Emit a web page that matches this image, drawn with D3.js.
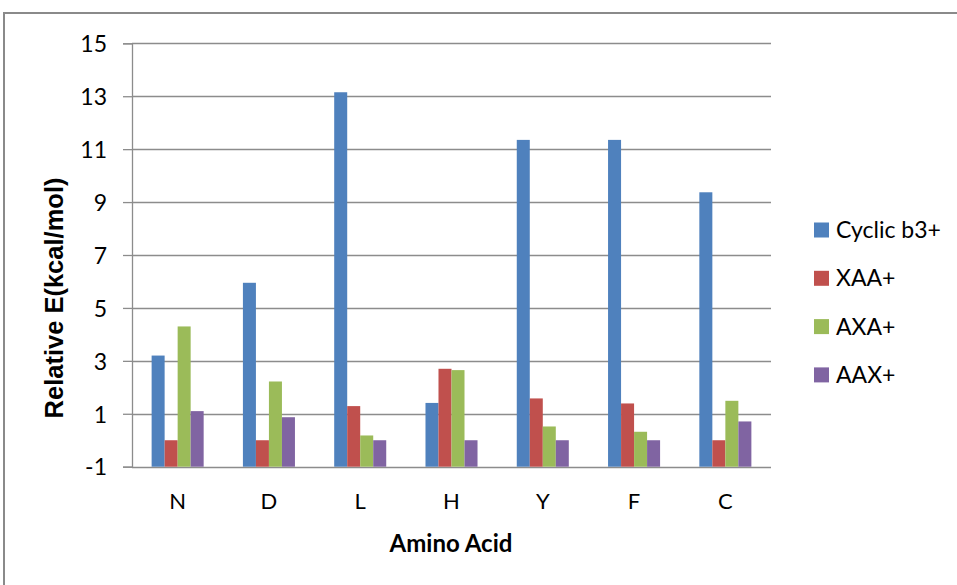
<!DOCTYPE html>
<html><head><meta charset="utf-8">
<script src="https://cdn.jsdelivr.net/npm/d3@7"></script>
<style>body{margin:0;background:#fff}svg{display:block}</style>
</head><body>
<svg id="c" width="957" height="585"></svg>
<script>
const categories = ["N","D","L","H","Y","F","C"];
const seriesNames = ["Cyclic b3+","XAA+","AXA+","AAX+"];
const cyclic = [3.2, 5.95, 13.15, 1.41, 11.35, 11.35, 9.37];
const xaa    = [0, 0, 1.29, 2.7, 1.58, 1.39, 0];
const axa    = [4.3, 2.22, 0.18, 2.65, 0.52, 0.32, 1.49];
const aax    = [1.1, 0.87, 0, 0, 0, 0, 0.71];
const yTicks = [-1,1,3,5,7,9,11,13,15];
const colors = ["#4F81BD","#C0504D","#9BBB59","#8064A2"];
const seriesVals = [cyclic, xaa, axa, aax];

const svg = d3.select("#c");
const font = "Lato, 'Open Sans', sans-serif";
svg.append("rect").attr("x",4).attr("y",13).attr("width",970).attr("height",600)
  .attr("fill","#fff").attr("stroke","#8a8a8a").attr("stroke-width",2);

const L=132, R=771, T=43.3, B=466.7;
const y = d3.scaleLinear().domain([-1,15]).range([B,T]);
const x0 = d3.scaleBand().domain(categories).range([L,R]).paddingInner(0.43).paddingOuter(0.215);
const x1 = d3.scaleBand().domain(seriesNames).range([0,x0.bandwidth()]);

// gridlines
svg.append("g").selectAll("line").data(yTicks).join("line")
  .attr("x1",L).attr("x2",R).attr("y1",d=>Math.round(y(d))+0.5).attr("y2",d=>Math.round(y(d))+0.5)
  .attr("stroke","#8c8c8c").attr("stroke-width",1.3);

// y axis
const ya = svg.append("g").attr("transform",`translate(${L},0)`)
  .call(d3.axisLeft(y).tickValues(yTicks).tickSize(9).tickPadding(16).tickFormat(d=>String(d)));
ya.select(".domain").attr("stroke","#8c8c8c").attr("stroke-width",1.3);
ya.selectAll(".tick line").attr("stroke","#8c8c8c").attr("stroke-width",1.3);
ya.selectAll("text").attr("font-family",font).attr("font-size",23).attr("fill","#000").attr("dy","0.36em");

// bars
const groups = svg.append("g").selectAll("g").data(categories).join("g")
  .attr("transform",d=>`translate(${x0(d)},0)`);
groups.selectAll("rect").data((c,i)=>seriesNames.map((s,j)=>({s,j,v:seriesVals[j][i]}))).join("rect")
  .attr("x",d=>x1(d.s)).attr("width",x1.bandwidth())
  .attr("y",d=>y(d.v)).attr("height",d=>y(-1)-y(d.v))
  .attr("fill",(d)=>colors[d.j]);

// x labels
svg.append("g").selectAll("text").data(categories).join("text")
  .attr("x",d=>x0(d)+x0.bandwidth()/2).attr("y",509)
  .attr("text-anchor","middle").attr("font-family",font).attr("font-size",22).text(d=>d);

// axis titles
svg.append("text").attr("x",451).attr("y",552).attr("text-anchor","middle")
  .attr("font-family",font).attr("font-size",24).attr("font-weight","bold").text("Amino Acid");
svg.append("text").attr("transform","translate(63,298) rotate(-90)").attr("text-anchor","middle")
  .attr("font-family","'Liberation Sans', Arial, sans-serif").attr("font-size",25.5).attr("font-weight","bold").text("Relative E(kcal/mol)");

// legend
const lg = svg.append("g").selectAll("g").data(seriesNames).join("g")
  .attr("transform",(d,i)=>`translate(814,${230+i*48.3})`);
lg.append("rect").attr("x",0).attr("y",-7.5).attr("width",15).attr("height",15).attr("fill",(d,i)=>colors[i]);
lg.append("text").attr("x",22).attr("y",8).attr("font-family",font).attr("font-size",23).text(d=>d);
</script>
</body></html>
